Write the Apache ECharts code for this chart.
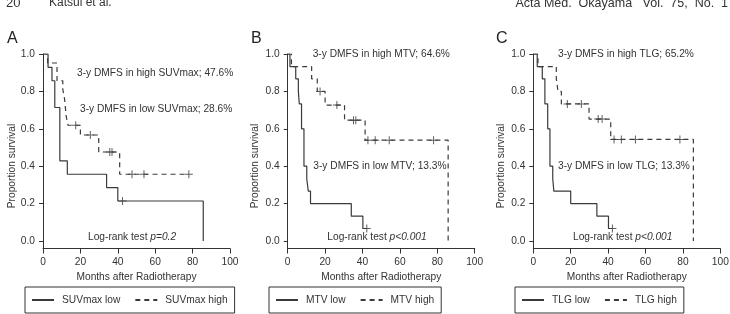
<!DOCTYPE html>
<html>
<head>
<meta charset="utf-8">
<script src="https://cdn.jsdelivr.net/npm/echarts@6/dist/echarts.min.js"></script>
<style>
  html, body { margin: 0; padding: 0; background: #fff; }
  #chart { width: 730px; height: 314px; }
</style>
</head>
<body>
<div id="chart"></div>
<script>
// [months, survival] after each event; censored cases as separate lists
const suvLow = [[0, 1], [2.7, 0.929], [4.8, 0.857], [6.3, 0.714], [9, 0.429], [13, 0.357], [34, 0.286], [40, 0.214], [85.7, 0]]
const suvLowCens = [[42.5, 0.214]]
const suvHigh = [[0, 1], [2.5, 0.952], [7.5, 0.857], [10.6, 0.81], [11.5, 0.762], [12.4, 0.667], [13.4, 0.619], [20, 0.567], [29.8, 0.476], [41, 0.357], [78, 0.357]]
const suvHighCens = [[17.5, 0.619], [25.3, 0.567], [35.7, 0.476], [36.9, 0.476], [47.6, 0.357], [54, 0.357], [78, 0.357]]

const mtvLow = [[0, 1], [1.2, 0.933], [4.3, 0.867], [5.7, 0.8], [6.2, 0.733], [7.4, 0.6], [8.7, 0.4], [10.2, 0.333], [11, 0.267], [12.2, 0.2], [34, 0.133], [40.2, 0.067], [42.3, 0.067]]
const mtvLowCens = [[42.3, 0.067]]
const mtvHigh = [[0, 1], [2, 0.933], [12.8, 0.867], [15.8, 0.8], [20, 0.727], [30.4, 0.646], [41.4, 0.539], [85.8, 0]]
const mtvHighCens = [[17.3, 0.8], [26.3, 0.727], [35.2, 0.646], [36.4, 0.646], [42.9, 0.539], [46.8, 0.539], [54.3, 0.539], [78, 0.539]]

const tlgLow = [[0, 1], [2.1, 0.933], [4.8, 0.867], [6.2, 0.733], [7.7, 0.6], [8.9, 0.4], [10.4, 0.333], [11, 0.267], [20, 0.2], [34, 0.133], [40.2, 0.067], [42.3, 0.067]]
const tlgLowCens = [[42.3, 0.067]]
const tlgHigh = [[0, 1], [2.5, 0.933], [12.3, 0.867], [13.2, 0.8], [15, 0.733], [29.8, 0.652], [41.4, 0.543], [85.6, 0]]
const tlgHighCens = [[18.2, 0.733], [25.7, 0.733], [34.7, 0.652], [36.8, 0.652], [43.2, 0.543], [47.1, 0.543], [54.6, 0.543], [78.4, 0.543]]

const xTicks = [0, 20, 40, 60, 80, 100]
const yTicks = [0, 0.2, 0.4, 0.6, 0.8, 1.0]

const panels = [
  { letter: 'A', low: suvLow, lowCens: suvLowCens, high: suvHigh, highCens: suvHighCens,
    names: ['SUVmax low', 'SUVmax high'],
    notes: ['3-y DMFS in high SUVmax; 47.6%', '3-y DMFS in low SUVmax; 28.6%'], p: 'p=0.2' },
  { letter: 'B', low: mtvLow, lowCens: mtvLowCens, high: mtvHigh, highCens: mtvHighCens,
    names: ['MTV low', 'MTV high'],
    notes: ['3-y DMFS in high MTV; 64.6%', '3-y DMFS in low MTV; 13.3%'], p: 'p<0.001' },
  { letter: 'C', low: tlgLow, lowCens: tlgLowCens, high: tlgHigh, highCens: tlgHighCens,
    names: ['TLG low', 'TLG high'],
    notes: ['3-y DMFS in high TLG; 65.2%', '3-y DMFS in low TLG; 13.3%'], p: 'p<0.001' }
]

// layout of each panel (pixels)
const gridLeft = [43, 287.7, 533.3]
const letterX = [7, 251, 496]
const ylabX = [12, 255, 500.7]
const noteXY = [
  [[77, 72.7], [80, 109.3], [88, 237.3]],
  [[312.7, 54], [313.3, 165.7], [327.3, 236.7]],
  [[558, 54], [558, 165.7], [573, 236.7]]
]
const legendLeft = [25, 269, 515]

const ink = '#333'
const lineCol = '#3a3a3a'
const font = 'Liberation Sans, Arial, sans-serif'
const fs = 10.2
const plus = 'path://M3.5,0H4.5V3.5H8V4.5H4.5V8H3.5V4.5H0V3.5H3.5Z'

const chart = echarts.init(document.getElementById('chart'), null, { renderer: 'canvas' })

const grid = [], xAxis = [], yAxis = [], series = [], legend = []
const graphic = [
  { type: 'text', left: 6, top: -3, style: { text: '20', fontSize: 13, fill: ink, fontFamily: font } },
  { type: 'text', left: 49, top: -3, style: { text: 'Katsui et al.', fontSize: 12, fill: ink, fontFamily: font } },
  { type: 'text', right: 2, top: -3, style: { text: 'Acta Med.  Okayama   Vol.  75,  No.  1', fontSize: 12.5, fill: ink, fontFamily: font } }
]

panels.forEach((p, i) => {
  grid.push({ left: gridLeft[i], top: 54, width: 187, height: 194.5, outerBoundsMode: 'none' })
  xAxis.push({
    gridIndex: i, type: 'value', min: 0, max: 100, interval: 20,
    name: 'Months after Radiotherapy', nameLocation: 'middle', nameGap: 22,
    nameTextStyle: { fontSize: fs, color: ink, fontFamily: font },
    axisLine: { show: true, onZero: false, lineStyle: { color: ink, width: 1 } },
    axisTick: { show: true, length: 5, lineStyle: { color: ink } },
    axisLabel: { fontSize: fs, color: ink, margin: 9, fontFamily: font,
      customValues: xTicks },
    splitLine: { show: false }
  })
  yAxis.push({
    gridIndex: i, type: 'value', min: -0.04, max: 1,
    axisLine: { show: true, lineStyle: { color: ink, width: 1 } },
    axisTick: { show: true, length: 4, lineStyle: { color: ink }, customValues: yTicks },
    axisLabel: { fontSize: fs, color: ink, margin: 8, fontFamily: font,
      customValues: yTicks, formatter: v => v.toFixed(1) },
    splitLine: { show: false }
  })
  series.push(
    { name: p.names[0], type: 'line', step: 'end', xAxisIndex: i, yAxisIndex: i, data: p.low,
      symbol: 'none', color: lineCol, lineStyle: { color: lineCol, width: 1.2 }, z: 3 },
    { name: p.names[1], type: 'line', step: 'end', xAxisIndex: i, yAxisIndex: i, data: p.high,
      symbol: 'none', color: lineCol, lineStyle: { color: lineCol, width: 1.2, type: [5, 4] }, z: 2 },
    { type: 'scatter', xAxisIndex: i, yAxisIndex: i, data: p.lowCens.concat(p.highCens),
      symbol: plus, symbolSize: 8, itemStyle: { color: lineCol }, z: 4 }
  )
  legend.push({
    data: p.names, left: legendLeft[i], top: 287, orient: 'horizontal',
    itemWidth: 22, itemHeight: 10, itemGap: 14,
    padding: [8, 7, 8, 6], borderColor: ink, borderWidth: 1, borderRadius: 0,
    selectedMode: false,
    itemStyle: { opacity: 0 },
    textStyle: { fontSize: fs, color: ink, fontFamily: font, padding: [0, 0, 0, 3] }
  })
  graphic.push(
    { type: 'text', left: letterX[i], top: 31, style: { text: p.letter, fontSize: 16, fill: '#222', fontFamily: font } },
    { type: 'text', x: ylabX[i], y: 166, rotation: Math.PI / 2,
      style: { text: 'Proportion survival', fontSize: fs, fill: ink, fontFamily: font, align: 'center', verticalAlign: 'middle' } },
    { type: 'text', x: noteXY[i][0][0], y: noteXY[i][0][1],
      style: { text: p.notes[0], fontSize: fs, fill: ink, fontFamily: font, verticalAlign: 'middle' } },
    { type: 'text', x: noteXY[i][1][0], y: noteXY[i][1][1],
      style: { text: p.notes[1], fontSize: fs, fill: ink, fontFamily: font, verticalAlign: 'middle' } },
    { type: 'text', x: noteXY[i][2][0], y: noteXY[i][2][1],
      style: { text: 'Log-rank test {i|' + p.p + '}', fontSize: fs, fill: ink, fontFamily: font, verticalAlign: 'middle',
        rich: { i: { fontStyle: 'italic', fontSize: fs, fill: ink, fontFamily: font } } } }
  )
})

chart.setOption({
  animation: false,
  backgroundColor: '#fff',
  grid: grid,
  xAxis: xAxis,
  yAxis: yAxis,
  legend: legend,
  series: series,
  graphic: graphic
})
</script>
</body>
</html>
